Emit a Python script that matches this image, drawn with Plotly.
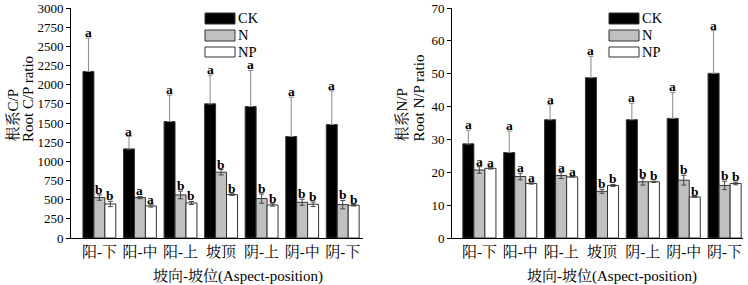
import plotly.graph_objects as go

categories = ["阳-下", "阳-中", "阳-上", "坡顶", "阴-上", "阴-中", "阴-下"]
series_names = ["CK", "N", "NP"]

# Root C/P ratio
cp_ck = [2172, 1162, 1519, 1750, 1715, 1323, 1480]
cp_ck_err = [436, 161, 344, 374, 470, 514, 440]
cp_n = [527, 527, 562, 858, 514, 466, 435]
cp_n_err = [35, 15, 50, 35, 60, 40, 55]
cp_np = [444, 418, 457, 566, 431, 440, 427]
cp_np_err = [35, 15, 20, 10, 15, 30, 10]
cp_letters_ck = ["a", "a", "a", "a", "a", "a", "a"]
cp_letters_n = ["b", "a", "b", "b", "b", "b", "b"]
cp_letters_np = ["b", "a", "b", "b", "b", "b", "b"]

# Root N/P ratio
np_ck = [28.65, 26.0, 36.0, 48.8, 36.0, 36.4, 50.1]
np_ck_err = [4.15, 6.5, 4.6, 6.5, 5.0, 7.9, 13.0]
np_n = [20.7, 18.7, 19.0, 14.2, 17.1, 17.6, 16.0]
np_n_err = [1.0, 1.0, 0.9, 0.6, 1.0, 1.5, 1.3]
np_np = [21.2, 16.6, 18.6, 16.0, 17.1, 12.5, 16.6]
np_np_err = [0.2, 0.2, 0.1, 0.3, 0.2, 0.1, 0.4]
np_letters_ck = ["a", "a", "a", "a", "a", "a", "a"]
np_letters_n = ["a", "a", "a", "b", "b", "b", "b"]
np_letters_np = ["a", "a", "a", "b", "b", "b", "b"]

cp_ticks = list(range(0, 3001, 250))
np_ticks = list(range(0, 71, 10))

SERIF = "Liberation Serif, Noto Serif CJK SC, Noto Sans CJK SC, serif"
colors = {"CK": "#000000", "N": "#c0c0c0", "NP": "#ffffff"}
GAP = 0.19
BW = (1 - GAP) / 3
offsets = [-BW, 0, BW]

xpos = list(range(len(categories)))
fig = go.Figure()

panels = [
    ("x", "y", [cp_ck, cp_n, cp_np], [cp_ck_err, cp_n_err, cp_np_err],
     [cp_letters_ck, cp_letters_n, cp_letters_np]),
    ("x2", "y2", [np_ck, np_n, np_np], [np_ck_err, np_n_err, np_np_err],
     [np_letters_ck, np_letters_n, np_letters_np]),
]

annotations = []
for xa, ya, vals, errs, letters in panels:
    for k, name in enumerate(series_names):
        is_ck = name == "CK"
        fig.add_trace(go.Bar(
            x=xpos, y=vals[k], name=name, xaxis=xa, yaxis=ya,
            marker=dict(color=colors[name], line=dict(color="#333333", width=1)),
            error_y=dict(type="data", array=errs[k], symmetric=not is_ck,
                         arrayminus=None if is_ck else errs[k],
                         color="#888888" if is_ck else "#444444",
                         thickness=1, width=2.5),
            showlegend=False,
        ))
        for i in xpos:
            annotations.append(dict(
                x=i + offsets[k], y=vals[k][i] + errs[k][i], xref=xa, yref=ya,
                text="<b>%s</b>" % letters[k][i], showarrow=False, yanchor="bottom",
                yshift=-3, borderpad=0,
                font=dict(family=SERIF, size=13.5, color="black"),
            ))

W, H = 748, 285
def px(x):
    return x / W
def py(y):
    return 1 - y / H

line_common = dict(showgrid=False, zeroline=False, showline=True, linecolor="black",
                   linewidth=1, automargin=False)
yfont = dict(family=SERIF, size=13, color="black")
xfont = dict(family=SERIF, size=15, color="black")

fig.update_layout(
    width=W, height=H, margin=dict(l=0, r=0, t=0, b=0, autoexpand=False),
    paper_bgcolor="white", plot_bgcolor="white",
    barmode="group", bargap=GAP, bargroupgap=0,
    font=dict(family=SERIF, color="black"),
    xaxis=dict(domain=[px(71), px(363)], range=[-0.7, 6.5], tickmode="array",
               tickvals=xpos, ticktext=categories, ticks="", tickfont=xfont,
               anchor="y", **line_common),
    yaxis=dict(domain=[py(238), py(8)], range=[0, 3000], tickmode="array",
               tickvals=cp_ticks, ticks="outside", ticklen=4, tickcolor="black",
               tickfont=yfont, anchor="x", **line_common),
    xaxis2=dict(domain=[px(452), px(743)], range=[-0.67, 6.45], tickmode="array",
                tickvals=xpos, ticktext=categories, ticks="", tickfont=xfont,
                anchor="y2", **line_common),
    yaxis2=dict(domain=[py(238), py(8)], range=[0, 70], tickmode="array",
                tickvals=np_ticks, ticks="outside", ticklen=4, tickcolor="black",
                tickfont=yfont, anchor="x2", **line_common),
)

# axis titles
for cx, txt in [(238, "坡向-坡位(Aspect-position)"), (612, "坡向-坡位(Aspect-position)")]:
    annotations.append(dict(x=px(cx), y=py(276), xref="paper", yref="paper",
                            text=txt, showarrow=False, xanchor="center", yanchor="middle",
                            font=dict(family=SERIF, size=15, color="black")))
for cx, txt in [(12, "根系C/P"), (28, "Root C/P ratio"),
                (401, "根系N/P"), (418, "Root N/P ratio")]:
    annotations.append(dict(x=px(cx), y=py(144), xref="paper", yref="paper",
                            text=txt, showarrow=False, textangle=-90,
                            xanchor="center", yanchor="bottom",
                            font=dict(family=SERIF, size=15, color="black")))

# legend keys
shapes = []
rows = [(13, 24), (30, 41), (47, 57)]
for x0 in (205, 609):
    for (y0, y1), name in zip(rows, series_names):
        shapes.append(dict(type="rect", xref="paper", yref="paper",
                           x0=px(x0), x1=px(x0 + 30), y0=py(y1), y1=py(y0),
                           fillcolor=colors[name], line=dict(color="#333333", width=1)))
        annotations.append(dict(x=px(x0 + 32), y=py((y0 + y1) / 2), xref="paper", yref="paper",
                                text=name, showarrow=False, xanchor="left", yanchor="middle",
                                borderpad=0,
                                font=dict(family=SERIF, size=14.5, color="black")))

fig.update_layout(annotations=annotations, shapes=shapes)
fig.write_html("out.html", config={"displayModeBar": False},
               post_script="document.body.style.margin='0';document.body.style.overflow='hidden';")
